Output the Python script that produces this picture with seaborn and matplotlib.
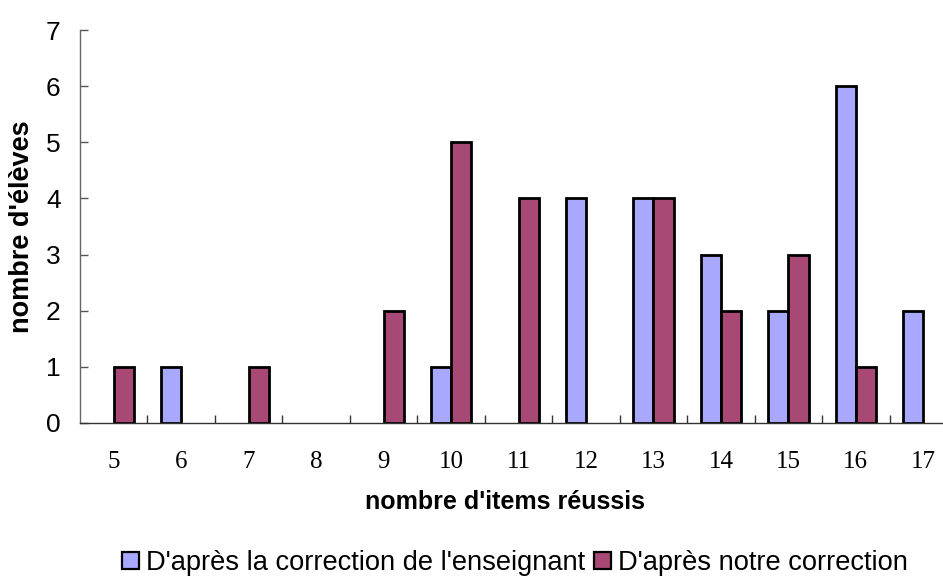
import matplotlib
matplotlib.use("Agg")
import matplotlib.pyplot as plt
from matplotlib.patches import Patch
import seaborn as sns
import pandas as pd
import numpy as np

categories = [5, 6, 7, 8, 9, 10, 11, 12, 13, 14, 15, 16, 17]
teacher = [0, 1, 0, 0, 0, 1, 0, 4, 4, 3, 2, 6, 2]
ours = [1, 0, 1, 0, 2, 5, 4, 0, 4, 2, 3, 1, 0]
series_names = ["D'après la correction de l'enseignant", "D'après notre correction"]
colors = ["#A8A8FF", "#A84874"]

df = pd.DataFrame({
    "x": categories * 2,
    "y": teacher + ours,
    "serie": [series_names[0]] * len(categories) + [series_names[1]] * len(categories),
})

sns.set_style("white")
plt.rcParams['font.family'] = ['Liberation Sans', 'DejaVu Sans']
plt.rcParams['text.color'] = 'black'
plt.rcParams['axes.labelcolor'] = 'black'
plt.rcParams['xtick.color'] = 'black'
plt.rcParams['ytick.color'] = 'black'

fig = plt.figure(figsize=(9.43, 5.77), dpi=100)
ax = fig.add_axes([80/943, 1-423/577, (957-80)/943, (423-30)/577])

sns.barplot(data=df, x="x", y="y", hue="serie", order=categories,
            hue_order=series_names, palette=colors, width=0.6, gap=0,
            saturation=1, edgecolor="black", linewidth=2, ax=ax, legend=False)

# empty bars are not drawn in the reference
for p in ax.patches:
    if p.get_height() == 0:
        p.set_visible(False)

ax.set_xlim(-0.5, len(categories) - 0.5)
ax.set_ylim(0, 7)
ax.set_yticks(range(0, 8))
ax.tick_params(axis='y', left=True, direction='in', length=6, width=1, color='#555555',
               labelsize=19, pad=14)
ax.set_xticks(range(len(categories)))
ax.set_xticklabels([str(c) for c in categories], fontfamily='Liberation Serif', fontsize=18)
ax.tick_params(axis='x', which='major', bottom=True, length=0, pad=20)
ax.set_xticks(np.arange(0.5, len(categories) - 0.5, 1), minor=True)
ax.tick_params(axis='x', which='minor', bottom=True, direction='in', length=6, width=1, color='#333333')

for s in ['top', 'right']:
    ax.spines[s].set_visible(False)
ax.spines['left'].set_color('#666666')
ax.spines['bottom'].set_color('#333333')
ax.spines['left'].set_linewidth(1)
ax.spines['bottom'].set_linewidth(1)

ax.set_xlabel("nombre d'items réussis", fontsize=18, fontweight='bold', labelpad=10)
ax.xaxis.set_label_coords((505 - 80) / 877, -0.17)
ax.set_ylabel("nombre d'élèves", fontsize=19.5, fontweight='bold', labelpad=8)

handles = [Patch(facecolor=c, edgecolor='black', linewidth=1.6) for c in colors]
fig.legend(handles, series_names, loc='center', bbox_to_anchor=(515/943, 1-563/577),
           ncol=2, frameon=False, fontsize=19.6, handlelength=0.62, handleheight=0.62,
           handletextpad=0.25, columnspacing=0.35, borderpad=0)

fig.savefig("out.png", dpi=100)
